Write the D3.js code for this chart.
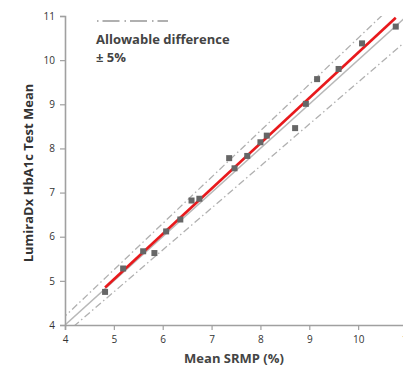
<!DOCTYPE html>
<html lang="en">
<head>
<meta charset="UTF-8">
<title>LumiraDx vs SRMP</title>
<script src="https://cdn.jsdelivr.net/npm/d3@7"></script>
<style>
  body { margin: 0; background: #fff; }
  svg { display: block; font-family: 'Open Sans', sans-serif; }
</style>
</head>
<body>
<script>
// values
const srmp   = [4.82, 5.19, 5.60, 5.83, 6.07, 6.36, 6.59, 6.75, 7.36, 7.47, 7.73, 8.00, 8.13, 8.71, 8.93, 9.16, 9.60, 10.08, 10.77];
const lumira = [4.75, 5.28, 5.67, 5.63, 6.12, 6.39, 6.82, 6.86, 7.78, 7.55, 7.83, 8.14, 8.29, 8.46, 9.01, 9.57, 9.80, 10.38, 10.76];
const xTicks = [4, 5, 6, 7, 8, 9, 10, 11];
const yTicks = [4, 5, 6, 7, 8, 9, 10, 11];
const fitSlope = 1.027, fitIntercept = -0.10;
const allowance = 0.05;

const width = 403, height = 372;

const svg = d3.select('body').append('svg')
  .attr('width', width)
  .attr('height', height);

const x = d3.scaleLinear().domain([4, 11]).range([65, 407]);
const y = d3.scaleLinear().domain([4, 11]).range([325, 16]);

svg.append('clipPath').attr('id', 'plot-clip')
  .append('rect').attr('x', 65).attr('y', 16).attr('width', 342).attr('height', 309);

const plot = svg.append('g').attr('clip-path', 'url(#plot-clip)');

const line = d3.line().x(d => x(d[0])).y(d => y(d[1]));

// identity line
plot.append('path')
  .attr('d', line([[4, 4], [11, 11]]))
  .attr('stroke', '#b8b8b8')
  .attr('stroke-width', 1.5)
  .attr('fill', 'none');

// +/- 5% lines
[1 + allowance, 1 - allowance].forEach(k => {
  plot.append('path')
    .attr('d', line([[3.5, 3.5 * k], [11.5, 11.5 * k]]))
    .attr('stroke', '#b0b0b0')
    .attr('stroke-width', 1.3)
    .attr('stroke-dasharray', '7,3,1.5,3')
    .attr('fill', 'none');
});

// regression line
const x0 = d3.min(srmp), x1 = d3.max(srmp);
plot.append('path')
  .attr('d', line([[x0, fitSlope * x0 + fitIntercept], [x1, fitSlope * x1 + fitIntercept]]))
  .attr('stroke', '#e8191c')
  .attr('stroke-width', 2.6)
  .attr('fill', 'none');

// points
const pts = srmp.map((v, i) => [v, lumira[i]]);
svg.append('g').selectAll('rect')
  .data(pts)
  .enter()
  .append('rect')
  .attr('x', d => x(d[0]) - 3)
  .attr('y', d => y(d[1]) - 3)
  .attr('width', 6)
  .attr('height', 6)
  .attr('fill', '#666');

// axes
const xAxis = svg.append('g')
  .attr('transform', 'translate(0,325)')
  .call(d3.axisBottom(x).tickValues(xTicks).tickSize(5).tickPadding(6).tickFormat(d3.format('d')));

const yAxis = svg.append('g')
  .attr('transform', 'translate(65,0)')
  .call(d3.axisLeft(y).tickValues(yTicks).tickSize(5).tickPadding(5).tickFormat(d3.format('d')));

[xAxis, yAxis].forEach(a => {
  a.select('.domain').attr('stroke', '#a0a0a0').attr('stroke-width', 1.6);
  a.selectAll('.tick line').attr('stroke', '#a0a0a0').attr('stroke-width', 1.2);
  a.selectAll('.tick text').attr('fill', '#333').style('font-size', '10px').style('font-family', "'Open Sans', sans-serif");
});

// legend
svg.append('line')
  .attr('x1', 97).attr('x2', 168)
  .attr('y1', 21).attr('y2', 21)
  .attr('stroke', '#b0b0b0')
  .attr('stroke-width', 1.8)
  .attr('stroke-dasharray', '1.5,4,17,5');

svg.append('text')
  .attr('x', 96).attr('y', 44)
  .attr('fill', '#444')
  .style('font-size', '13px')
  .style('font-weight', 'bold')
  .text('Allowable difference');

svg.append('text')
  .attr('x', 96).attr('y', 62)
  .attr('fill', '#444')
  .style('font-size', '13px')
  .style('font-weight', 'bold')
  .text('± 5%');

// axis titles
svg.append('text')
  .attr('x', 234).attr('y', 363)
  .attr('text-anchor', 'middle')
  .attr('fill', '#444')
  .style('font-size', '13px')
  .style('font-weight', 'bold')
  .text('Mean SRMP (%)');

svg.append('text')
  .attr('transform', 'translate(33,173) rotate(-90)')
  .attr('text-anchor', 'middle')
  .attr('fill', '#333')
  .style('font-size', '13px')
  .style('font-weight', 'bold')
  .text('LumiraDx HbA1c Test Mean');
</script>
</body>
</html>
